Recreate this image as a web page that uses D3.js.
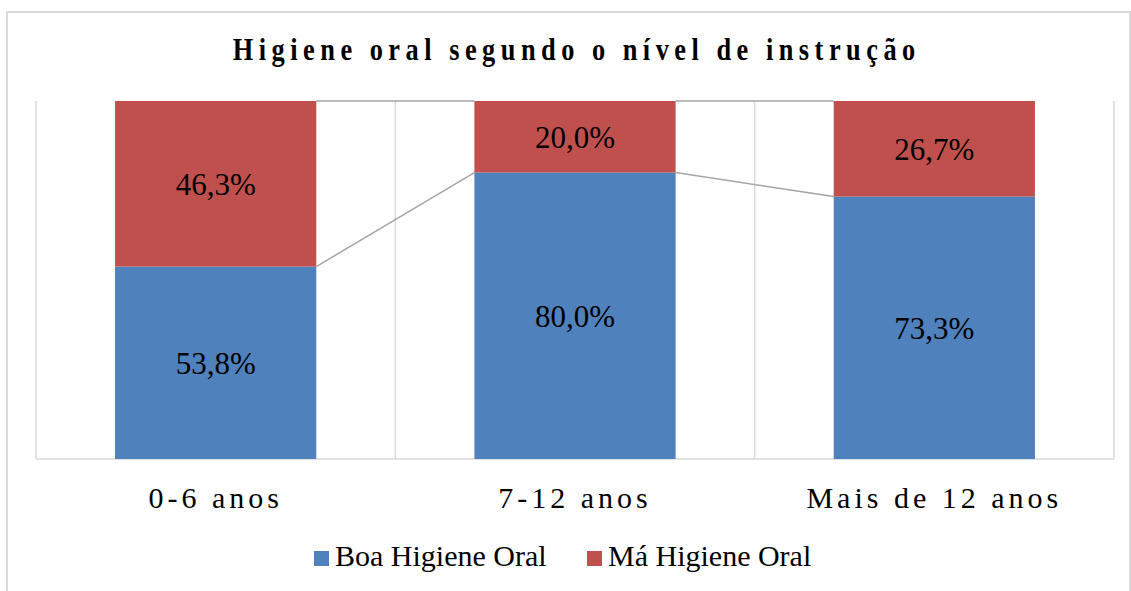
<!DOCTYPE html>
<html>
<head>
<meta charset="utf-8">
<title>Higiene oral segundo o nível de instrução</title>
<script src="https://d3js.org/d3.v7.min.js"></script>
<style>
body { margin: 0; background: #fff; }
text { font-family: "Liberation Serif", "Times New Roman", serif; fill: #000; }
.grid line { stroke: #d9d9d9; stroke-width: 1.5; }
.serie { fill: none; stroke: #a5a5a5; stroke-width: 1.5; }
</style>
</head>
<body>
<script>
// data
var categorias = ["0-6 anos", "7-12 anos", "Mais de 12 anos"];
var boa = [53.8, 80.0, 73.3];
var ma = [46.3, 20.0, 26.7];
var series = ["Boa Higiene Oral", "Má Higiene Oral"];
var cores = ["#4f81bd", "#c0504d"];
var titulo = "Higiene oral segundo o nível de instrução";

var W = 1131, H = 591;
var margin = {top: 101, right: 17, bottom: 132, left: 36};
var width = W - margin.left - margin.right,
    height = H - margin.top - margin.bottom;

var svg = d3.select("body").append("svg")
    .attr("width", W)
    .attr("height", H);

// outer border
svg.append("rect")
    .attr("x", 7).attr("y", 12)
    .attr("width", 1123).attr("height", 600)
    .attr("fill", "none")
    .attr("stroke", "#d9d9d9")
    .attr("stroke-width", 2);

// title, bold with wide letter spacing
var sx = 0.85;
var tt = svg.append("g")
    .attr("transform", "translate(574,60) scale(" + sx + ",1)")
  .append("text")
    .attr("text-anchor", "middle")
    .attr("font-weight", "bold")
    .attr("font-size", 31)
    .text(titulo);
var natural = tt.node().getComputedTextLength();
var ls = (688 / sx - natural) / titulo.length;
tt.attr("letter-spacing", ls).attr("dx", ls / 2);

var g = svg.append("g")
    .attr("transform", "translate(" + margin.left + "," + margin.top + ")");

var x = d3.scaleBand()
    .domain(categorias)
    .range([0, width])
    .paddingInner(0.44)
    .paddingOuter(0.22);

var y = d3.scaleLinear()
    .domain([0, 1])
    .range([height, 0]);

// 100% stacked rows
var tabela = categorias.map(function(c, i) {
  var tot = boa[i] + ma[i];
  return {cat: c, v: [boa[i], ma[i]], f: [boa[i] / tot, ma[i] / tot]};
});
var stack = tabela.map(function(d) {
  var y0 = 0;
  return d.f.map(function(f, k) {
    var s = {cat: d.cat, k: k, y0: y0, y1: y0 + f, val: d.v[k]};
    y0 += f;
    return s;
  });
});

// vertical gridlines at category boundaries
var step = x.step();
var grid = g.append("g").attr("class", "grid");
grid.selectAll("line")
    .data(d3.range(categorias.length + 1))
  .enter().append("line")
    .attr("x1", function(i) { return i * step; })
    .attr("x2", function(i) { return i * step; })
    .attr("y1", 0)
    .attr("y2", height);
grid.append("line")
    .attr("x1", 0).attr("x2", width)
    .attr("y1", height).attr("y2", height);

// series lines
var fmt = d3.format(".1f");
[0, 1].forEach(function(k) {
  var pts = [];
  stack.forEach(function(s, i) {
    var yy = y(s[k].y1);
    if (i > 0) pts.push([x(categorias[i]), yy]);
    if (i < stack.length - 1) pts.push([x(categorias[i]) + x.bandwidth(), yy]);
  });
  for (var j = 0; j < pts.length; j += 2) {
    g.append("path")
        .attr("class", "serie")
        .attr("d", d3.line()([pts[j], pts[j + 1]]));
  }
});

// bars
var segs = d3.merge(stack);
g.selectAll(".bar")
    .data(segs)
  .enter().append("rect")
    .attr("class", "bar")
    .attr("x", function(d) { return x(d.cat); })
    .attr("width", x.bandwidth())
    .attr("y", function(d) { return y(d.y1); })
    .attr("height", function(d) { return y(d.y0) - y(d.y1); })
    .attr("fill", function(d) { return cores[d.k]; });

// value labels
g.selectAll(".lbl")
    .data(segs)
  .enter().append("text")
    .attr("class", "lbl")
    .attr("x", function(d) { return x(d.cat) + x.bandwidth() / 2; })
    .attr("y", function(d) { return (y(d.y0) + y(d.y1)) / 2; })
    .attr("dy", "0.36em")
    .attr("text-anchor", "middle")
    .attr("font-size", 31)
    .text(function(d) { return fmt(d.val).replace(".", ",") + "%"; });

// category labels
g.selectAll(".cat")
    .data(categorias)
  .enter().append("text")
    .attr("class", "cat")
    .attr("x", function(d) { return x(d) + x.bandwidth() / 2; })
    .attr("y", height + 49)
    .attr("text-anchor", "middle")
    .attr("font-size", 30)
    .attr("letter-spacing", 4)
    .text(function(d) { return d; });

// legend
var leg = svg.append("g").attr("transform", "translate(314,551)");
var lx = [0, 273];
series.forEach(function(s, k) {
  leg.append("rect")
      .attr("x", lx[k]).attr("y", 0)
      .attr("width", 15).attr("height", 15)
      .attr("fill", cores[k]);
  leg.append("text")
      .attr("x", lx[k] + 21)
      .attr("y", 15)
      .attr("font-size", 30)
      .text(s);
});
</script>
</body>
</html>
